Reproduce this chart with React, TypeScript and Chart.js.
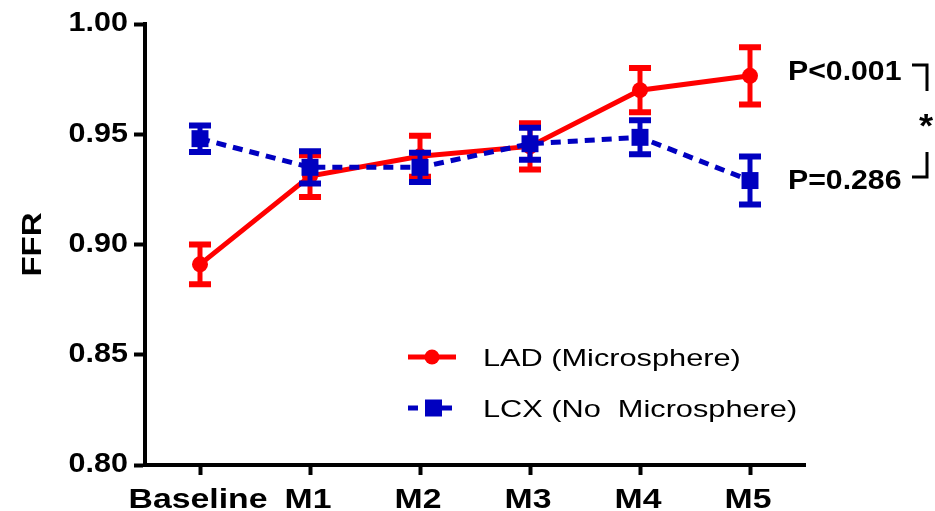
import React, { useEffect, useRef } from "react";
import { Chart, registerables } from "chart.js";

Chart.register(...registerables);

// Time points and FFR (mean ± SEM) per vessel
const categories = ["Baseline", "M1", "M2", "M3", "M4", "M5"];
const ladMean = [0.891, 0.931, 0.94, 0.9445, 0.97, 0.9765];
const ladSem = [0.009, 0.0095, 0.0093, 0.0105, 0.01, 0.013];
const lcxMean = [0.948, 0.935, 0.935, 0.9457, 0.9486, 0.929];
const lcxSem = [0.006, 0.0073, 0.0066, 0.0073, 0.0077, 0.0109];
const yTickValues = [0.8, 0.85, 0.9, 0.95, 1.0];
const seriesNames = ["LAD (Microsphere)", "LCX (No  Microsphere)"];
const pValueLabels = ["P<0.001", "P=0.286"];
const yTitle = "FFR";

const FONT = "'Liberation Sans', Arial, Helvetica, sans-serif";
const RED = "#ff0000";
const BLUE = "#0000c0";
const INK = "#000000";

// Text drawn with a horizontal stretch along its own direction
function wideText(
  ctx: CanvasRenderingContext2D,
  text: string,
  x: number,
  y: number,
  font: string,
  align: CanvasTextAlign,
  baseline: CanvasTextBaseline,
  sx: number,
  rotation = 0
) {
  ctx.save();
  ctx.translate(x, y);
  if (rotation) ctx.rotate(rotation);
  ctx.scale(sx, 1);
  ctx.font = font;
  ctx.fillStyle = INK;
  ctx.textAlign = align;
  ctx.textBaseline = baseline;
  ctx.fillText(text, 0, 0);
  ctx.restore();
}

const errorBars = {
  id: "errorBars",
  afterDatasetDraw(chart: any, args: any) {
    const ds = chart.data.datasets[args.index];
    const errs: number[] = ds.sem;
    if (!errs) return;
    const y = chart.scales.y;
    const ctx = chart.ctx as CanvasRenderingContext2D;
    ctx.save();
    ctx.strokeStyle = ds.borderColor;
    args.meta.data.forEach((pt: any, i: number) => {
      const v = ds.data[i];
      const top = y.getPixelForValue(v + errs[i]);
      const bot = y.getPixelForValue(v - errs[i]);
      ctx.setLineDash([]);
      ctx.lineWidth = 5;
      ctx.beginPath();
      ctx.moveTo(pt.x, top);
      ctx.lineTo(pt.x, bot);
      ctx.stroke();
      ctx.lineWidth = 6;
      ctx.beginPath();
      ctx.moveTo(pt.x - 11, top);
      ctx.lineTo(pt.x + 11, top);
      ctx.moveTo(pt.x - 11, bot);
      ctx.lineTo(pt.x + 11, bot);
      ctx.stroke();
    });
    ctx.restore();
  },
};

const axisText = {
  id: "axisText",
  afterDraw(chart: any) {
    const ctx = chart.ctx as CanvasRenderingContext2D;
    const xs = chart.scales.x;
    const ys = chart.scales.y;
    ys.ticks.forEach((t: any, i: number) => {
      wideText(ctx, t.value.toFixed(2), ys.right - 17, ys.getPixelForTick(i), `bold 27px ${FONT}`, "right", "middle", 1.13);
    });
    xs.getLabels().forEach((lab: string, i: number) => {
      wideText(ctx, lab, xs.getPixelForTick(i) - 2, 508, `bold 27px ${FONT}`, "center", "alphabetic", 1.25);
    });
    const area = chart.chartArea;
    wideText(ctx, yTitle, 33, (area.top + area.bottom) / 2, `bold 28px ${FONT}`, "center", "middle", 1.18, -Math.PI / 2);
  },
};

const legendBox = {
  id: "legendBox",
  afterDraw(chart: any) {
    const ctx = chart.ctx as CanvasRenderingContext2D;
    const rows = [357, 408];
    chart.data.datasets.forEach((ds: any, i: number) => {
      const yy = rows[i];
      ctx.save();
      ctx.strokeStyle = ds.borderColor;
      ctx.lineWidth = 5;
      ctx.setLineDash(ds.borderDash || []);
      ctx.beginPath();
      ctx.moveTo(408, yy);
      ctx.lineTo(456, yy);
      ctx.stroke();
      ctx.setLineDash([]);
      ctx.fillStyle = ds.pointBackgroundColor;
      ctx.beginPath();
      if (ds.pointStyle === "rect") {
        ctx.rect(425, yy - 8.5, 17, 17);
      } else {
        ctx.arc(432, yy, 7.5, 0, Math.PI * 2);
      }
      ctx.fill();
      ctx.restore();
      wideText(ctx, ds.label, 483, yy + 2, `24px ${FONT}`, "left", "middle", 1.28);
    });
  },
};

const pValues = {
  id: "pValues",
  afterDraw(chart: any) {
    const ctx = chart.ctx as CanvasRenderingContext2D;
    wideText(ctx, pValueLabels[0], 788, 80, `bold 27px ${FONT}`, "left", "alphabetic", 1.12);
    wideText(ctx, pValueLabels[1], 788, 189, `bold 27px ${FONT}`, "left", "alphabetic", 1.12);
    ctx.save();
    ctx.strokeStyle = INK;
    ctx.lineWidth = 3;
    ctx.beginPath();
    ctx.moveTo(912, 65);
    ctx.lineTo(927, 65);
    ctx.lineTo(927, 91);
    ctx.moveTo(927, 152);
    ctx.lineTo(927, 177);
    ctx.lineTo(912, 177);
    ctx.stroke();
    ctx.restore();
    wideText(ctx, "*", 926, 137, `bold 33px ${FONT}`, "center", "alphabetic", 1.1);
  },
};

export default function App() {
  const ref = useRef<HTMLCanvasElement | null>(null);

  useEffect(() => {
    if (!ref.current) return;
    const chart = new Chart(ref.current, {
      type: "line",
      data: {
        labels: categories,
        datasets: [
          {
            label: seriesNames[0],
            data: ladMean,
            sem: ladSem,
            borderColor: RED,
            backgroundColor: RED,
            pointBackgroundColor: RED,
            pointBorderColor: RED,
            pointStyle: "circle",
            pointRadius: 8,
            pointBorderWidth: 0,
            borderWidth: 5,
            tension: 0,
            order: 2,
          } as any,
          {
            label: seriesNames[1],
            data: lcxMean,
            sem: lcxSem,
            borderColor: BLUE,
            backgroundColor: BLUE,
            pointBackgroundColor: BLUE,
            pointBorderColor: BLUE,
            pointStyle: "rect",
            pointRadius: 12,
            pointBorderWidth: 0,
            borderWidth: 5,
            borderDash: [10, 7],
            tension: 0,
            order: 1,
          } as any,
        ],
      },
      options: {
        responsive: false,
        animation: false,
        events: [],
        layout: { padding: { top: 24, right: 130, bottom: 0, left: 0 } },
        plugins: {
          legend: { display: false },
          tooltip: { enabled: false },
          title: { display: false },
        },
        scales: {
          x: {
            type: "category",
            offset: true,
            grid: {
              offset: false,
              drawOnChartArea: false,
              drawTicks: true,
              tickLength: 10,
              tickWidth: 4,
              tickColor: INK,
            },
            border: { display: true, color: INK, width: 4 },
            ticks: { display: false },
            afterFit: (s: any) => {
              s.height = 46;
            },
          },
          y: {
            type: "linear",
            min: 0.8,
            max: 1.0,
            grid: {
              drawOnChartArea: false,
              drawTicks: true,
              tickLength: 11,
              tickWidth: 4,
              tickColor: INK,
            },
            border: { display: true, color: INK, width: 4 },
            ticks: { display: false },
            afterBuildTicks: (s: any) => {
              s.ticks = yTickValues.map((v) => ({ value: v }));
            },
            afterFit: (s: any) => {
              s.width = 145;
            },
          },
        },
      },
      plugins: [errorBars, axisText, legendBox, pValues],
    });
    return () => chart.destroy();
  }, []);

  return (
    <div style={{ position: "fixed", left: 0, top: 0, width: 935, height: 511, background: "#fff" }}>
      <canvas ref={ref} width={935} height={511} />
    </div>
  );
}
